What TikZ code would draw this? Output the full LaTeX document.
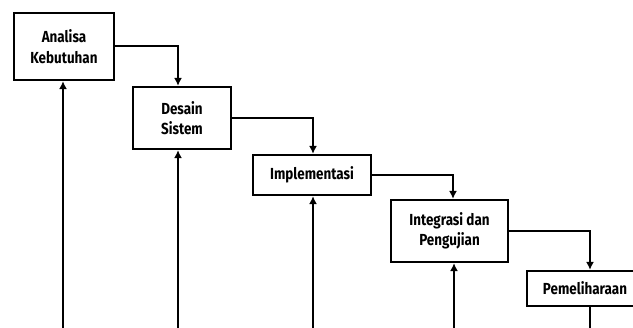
\documentclass[tikz,border=0pt]{standalone}
\usepackage{fontspec}
\setmainfont{Fira Sans}[FakeStretch=0.84]
\usetikzlibrary{arrows.meta}
\tikzset{
  phase/.style={draw, line width=2.2pt, align=center, inner sep=2pt,
    font=\fontsize{16}{20.5}\selectfont\bfseries},
  flow/.style={line width=2pt, -{Latex[length=8pt,width=8pt]}},
  feed/.style={line width=2pt}
}
\begin{document}
\begin{tikzpicture}[x=1pt,y=-1pt]
\useasboundingbox (0,0) rectangle (633,328);
\clip (0,0) rectangle (633,328);

\node[phase, minimum width=100pt, minimum height=67pt] (ana) at (64,46.5) {Analisa\\Kebutuhan};
\node[phase, minimum width=98pt, minimum height=62pt] (des) at (182,118) {Desain\\Sistem};
\node[phase, minimum width=118pt, minimum height=40pt] (imp) at (312,175) {Implementasi};
\node[phase, minimum width=117pt, minimum height=62pt] (int) at (449.5,231) {Integrasi dan\\Pengujian};
\node[phase, minimum width=116pt, minimum height=35pt] (pem) at (585,288.5) {Pemeliharaan};

% bottom ends of the return lines
\coordinate (r1) at (63,340);
\coordinate (r2) at (178,340);
\coordinate (r3) at (313,340);
\coordinate (r4) at (454,340);
\coordinate (r5) at (590,340);

\draw[flow] (ana.east) -| ([xshift=-4pt]des.north);
\draw[flow] (des.east) -| ([xshift=1pt]imp.north);
\draw[flow] (imp.east) -| ([xshift=3.5pt]int.north);
\draw[flow] (int.east) -| ([xshift=5pt]pem.north);

\draw[flow] (r1) -- (r1 |- ana.south);
\draw[flow] (r2) -- (r2 |- des.south);
\draw[flow] (r3) -- (r3 |- imp.south);
\draw[flow] (r4) -- (r4 |- int.south);
\draw[feed] (r5 |- pem.south) -- (r5);
\end{tikzpicture}
\end{document}
